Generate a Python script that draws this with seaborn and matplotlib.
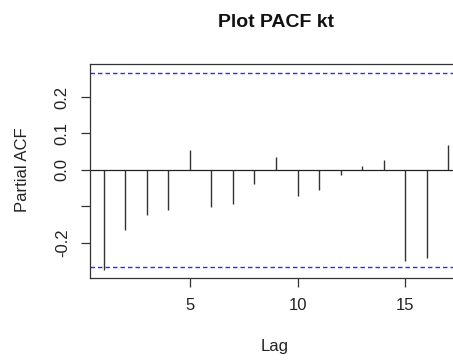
import numpy as np
import matplotlib
matplotlib.use("Agg")
import matplotlib.pyplot as plt
import seaborn as sns

lags = list(range(1, 18))
pacf = [-0.275, -0.165, -0.125, -0.111, 0.055, -0.101, -0.094, -0.038, 0.036,
        -0.072, -0.055, -0.013, 0.010, 0.027, -0.249, -0.241, 0.069]
ci = 0.266
title = "Plot PACF kt"
xlabel = "Lag"
ylabel = "Partial ACF"
yticks = [-0.2, -0.1, 0.0, 0.1, 0.2]
yticklabels = ["-0.2", "", "0.0", "0.1", "0.2"]
xticks = [5, 10, 15]

sns.set_theme(style="white")
plt.rcParams['font.family'] = ['Liberation Sans', 'DejaVu Sans']

fig = plt.figure(figsize=(4.53, 3.6), dpi=100)
ax = fig.add_axes([90/453, 1-277.7/360, (462-90)/453, (277.7-64.3)/360])

ax.vlines(lags, 0, pacf, color="#333333", lw=1.0)
ax.axhline(0, color="#222222", lw=0.9)
for v in (ci, -ci):
    ax.axhline(v, color="#2b2bff", lw=1.0, dashes=(3.2, 2.2))

ax.set_xlim(0.36, 17.64)
ax.set_ylim(-0.296, 0.290)
ax.set_xticks(xticks)
ax.set_xticklabels([str(t) for t in xticks], fontsize=12)
ax.set_yticks(yticks)
ax.set_yticklabels(yticklabels, fontsize=12, rotation=90, va="center")
ax.tick_params(axis="both", direction="out", length=6.5, width=0.9, color="#333333",
               labelcolor="#222222", pad=8, left=True, bottom=True)
for s in ax.spines.values():
    s.set_color("#333333")
    s.set_linewidth(0.9)

fig.text(275.5/453, 1-27/360, title, ha="center", va="baseline", fontsize=14,
         fontweight="bold", color="#111111")
fig.text(275/453, 1-347/360, xlabel, ha="center", va="center", fontsize=12, color="#222222")
fig.text(23/453, 1-170/360, ylabel, ha="center", va="center", fontsize=12,
         rotation=90, color="#222222")

fig.savefig("out.png", dpi=100)
